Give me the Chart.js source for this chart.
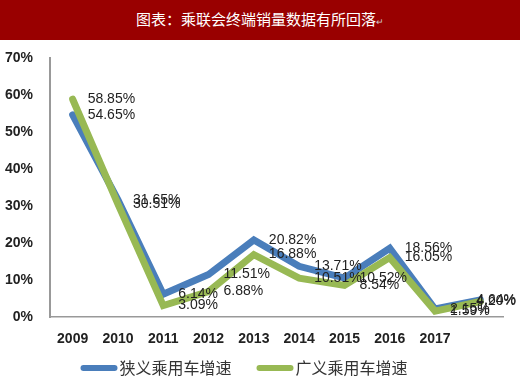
<!DOCTYPE html>
<html>
<head>
<meta charset="utf-8">
<script src="https://cdn.jsdelivr.net/npm/chart.js@4/dist/chart.umd.min.js"></script>
<style>
  body { margin: 0; background: #fff; }
  #titulo {
    height: 40px; line-height: 38px; background: #990000; color: #fff;
    text-align: center; font-family: "Noto Sans CJK SC", sans-serif; font-size: 15px;
  }
  #titulo span { font-size: 9px; color: #ccc; }
  #caixa { position: relative; width: 520px; height: 343px; }
</style>
</head>
<body>
<div id="titulo">图表：乘联会终端销量数据有所回落<span>↵</span></div>
<div id="caixa"><canvas id="myChart"></canvas></div>
<script>
const anos = ['2009','2010','2011','2012','2013','2014','2015','2016','2017',''];
const estreito = [54.65, 31.65, 6.14, 11.51, 20.82, 13.71, 10.52, 18.56, 2.15, 4.64];
const amplo = [58.85, 30.51, 3.09, 6.88, 16.88, 10.51, 8.54, 16.05, 1.59, 4.20];
const nomes = ['狭义乘用车增速', '广义乘用车增速'];

// rotulos de dados ao lado de cada ponto
const rotulos = {
  id: 'rotulos',
  afterDatasetsDraw(chart) {
    const c = chart.ctx;
    c.save();
    c.font = '14px "Liberation Sans", sans-serif';
    c.fillStyle = '#222';
    c.textBaseline = 'middle';
    c.textAlign = 'left';
    chart.data.datasets.forEach((ds, i) => {
      chart.getDatasetMeta(i).data.forEach((p, j) => {
        const txt = ds.data[j].toFixed(2) + '%';
        let x = p.x + 15;
        const w = c.measureText(txt).width;
        if (x + w > chart.width - 4) x = chart.width - 4 - w;
        c.fillText(txt, x, p.y);
      });
    });
    c.restore();
  }
};

// legenda desenhada na mao (linha grossa + texto)
const legenda = {
  id: 'legenda',
  afterDraw(chart) {
    const c = chart.ctx;
    c.save();
    c.font = '16px "Noto Sans CJK SC", sans-serif';
    c.textBaseline = 'middle';
    const caixa = 37, gap = 2, entre = 25;
    const itens = chart.data.datasets.map(ds => ({ t: ds.label, cor: ds.borderColor, w: c.measureText(ds.label).width }));
    let total = 0;
    itens.forEach((it, i) => { total += caixa + gap + it.w + (i ? entre : 0); });
    let x = 244 - total / 2;
    const y = chart.height - 15;
    itens.forEach(it => {
      c.fillStyle = it.cor;
      c.beginPath();
      c.roundRect(x, y - 3, caixa, 6, 3);
      c.fill();
      x += caixa + gap;
      c.fillStyle = '#333';
      c.fillText(it.t, x, y);
      x += it.w + entre;
    });
    c.restore();
  }
};

var ctx = document.getElementById('myChart').getContext('2d');
chart = new Chart(ctx, {
  type: 'line',
  data: {
    labels: anos,
    datasets: [
      {
        label: nomes[0],
        data: estreito,
        borderColor: '#4a7ebb',
        backgroundColor: '#4a7ebb',
        borderWidth: 7,
        pointRadius: 0,
        tension: 0,
        borderCapStyle: 'round',
        order: 2
      },
      {
        label: nomes[1],
        data: amplo,
        borderColor: '#98b954',
        backgroundColor: '#98b954',
        borderWidth: 7,
        pointRadius: 0,
        tension: 0,
        borderCapStyle: 'round',
        order: 1
      }
    ]
  },
  options: {
    responsive: true,
    maintainAspectRatio: false,
    animation: { duration: 0 },
    layout: { padding: { top: 18, right: 17, left: 0, bottom: 30 } },
    plugins: {
      tooltip: { enabled: false },
      legend: { display: false }
    },
    scales: {
      x: {
        offset: true,
        grid: { display: false },
        border: { display: true, color: '#999', width: 1.5 },
        ticks: {
          color: '#222',
          padding: 6,
          maxRotation: 0,
          font: { family: '"Liberation Sans", sans-serif', size: 14, weight: 'bold' }
        },
        afterFit(s) { s.height = 36; }
      },
      y: {
        min: 0,
        max: 70,
        grid: { display: false },
        border: { display: true, color: '#999', width: 2 },
        ticks: {
          stepSize: 10,
          color: '#222',
          padding: 9,
          font: { family: '"Liberation Sans", sans-serif', size: 14, weight: 'bold' },
          callback: v => v + '%'
        },
        afterFit(s) { s.width = 50; }
      }
    }
  },
  plugins: [rotulos, legenda]
});
</script>
</body>
</html>
